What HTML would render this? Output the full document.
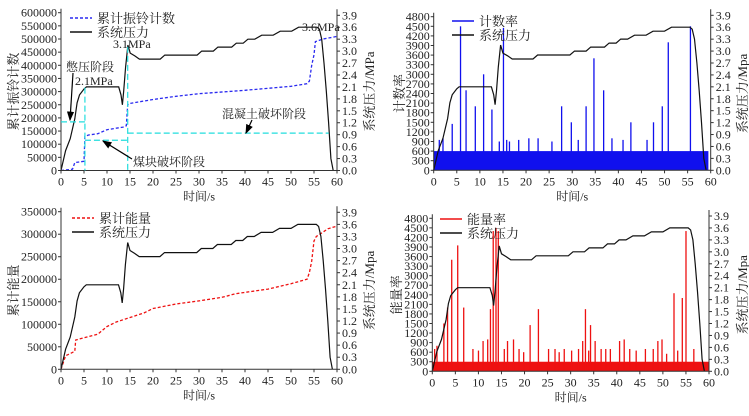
<!DOCTYPE html>
<html><head><meta charset="utf-8"><style>
html,body{margin:0;padding:0;background:#fff;}
svg text{font-family:"Liberation Serif","Noto Serif CJK SC","Noto Sans CJK SC",serif;fill:#222;}
</style></head><body>
<svg id="fig" width="749" height="411" viewBox="0 0 749 411" xmlns="http://www.w3.org/2000/svg"></svg>
<script>
// ---- shared pressure series ----
const pressT = [0,1,2,3,3.5,4,5,5.5,12.5,13,13.3,13.6,14,14.5,15,16,17,21.5,22.5,29.5,30.5,33,34,37,38,39.5,40.5,42,43.5,46,47.5,50,51.5,55.5,56,56.5,57,57.5,58,58.5,59];
const pressV = [0,0.5,0.8,1.3,1.7,1.9,2.05,2.1,2.1,1.9,1.65,2.0,2.6,3.15,2.95,2.88,2.8,2.8,2.9,2.9,3.0,3.0,3.1,3.1,3.2,3.2,3.3,3.3,3.4,3.4,3.5,3.5,3.6,3.6,3.55,3.3,2.7,2.0,1.2,0.3,0];
// ---- panel 1: cumulative ring count ----
const ringT = [0,2.5,3,5,5.2,6,8,10,13.5,14.2,14.5,15,20,25,30,40,50,53.5,54,54.5,55,55.3,57,60];
const ringV = [0,5000,30000,35000,130000,135000,140000,155000,165000,170000,250000,255000,270000,282000,292000,305000,320000,330000,340000,400000,440000,490000,500000,510000];
// ---- panel 2: count rate spikes ----
const countT = [1.2,2,4,5.8,7,9,10.8,12.6,14.2,15.1,15.8,16.4,18.4,20.6,22.6,25.6,27.7,29.8,31.3,33,34.7,36.8,38.6,41,42.7,46.2,47.6,49.5,50.8,55.6];
const countV = [950,1000,1450,4500,2500,2000,3000,1900,900,4450,950,900,950,1000,1000,900,2000,1500,950,2000,3500,2500,1000,950,1500,950,1500,2000,4000,4500];
const countNoise = [600];
// ---- panel 3: cumulative energy ----
const energyT = [0,0.5,1,3,3.2,5,8,10,12,15,18,20,25,30,35,38,45,50,53.5,54,54.5,55,55.5,57,58,60];
const energyV = [0,15000,30000,40000,65000,70000,78000,95000,105000,115000,125000,135000,145000,152000,160000,168000,178000,190000,200000,215000,240000,285000,295000,305000,312000,318000];
// ---- panel 4: energy rate spikes ----
const erateT = [0.5,1,2.5,3.3,4.2,5.5,6.8,8.8,10,11,12,12.6,13.2,13.8,14.3,15.6,16.3,17.6,18.8,19.8,21.2,23,25.2,26.6,27.5,28.6,30.2,31.7,32.6,33.2,33.9,34.3,35.3,36.6,37.6,38.6,40.6,41.6,42.8,44.2,46.2,47.9,48.9,49.8,50.8,52.4,53.2,54.2,55,56.7];
const erateV = [700,800,1500,2000,3500,3950,2000,700,650,950,1000,1950,4400,4500,4400,700,950,1000,700,600,1450,1950,700,700,600,700,650,700,950,1950,650,1450,950,700,700,700,950,1000,700,650,700,700,950,1000,550,2450,650,2300,4400,700];
const erateNoise = [300];

const xTicks = [0,5,10,15,20,25,30,35,40,45,50,55,60];
const rTicks = [0,0.3,0.6,0.9,1.2,1.5,1.8,2.1,2.4,2.7,3.0,3.3,3.6,3.9];

const svg = document.getElementById('fig');
const NS = 'http://www.w3.org/2000/svg';
function mk(tag, attrs, parent){const e=document.createElementNS(NS,tag);for(const k in attrs)e.setAttribute(k,attrs[k]);(parent||svg).appendChild(e);return e;}
function txt(s,x,y,size,anchor,parent){const t=mk('text',{x:x,y:y,'font-size':size,'text-anchor':anchor||'start'},parent);t.textContent=s;return t;}

function panel(p){
  const g = mk('g',{});
  
  
  const sx = t => p.x0 + (t/60)*(p.x1-p.x0);
  const sy = v => p.yb - (v/p.lmax)*(p.yb-p.yt);
  const sr = v => p.yb - (v/3.9)*(p.yb-p.rt);
  if(p.bars){
    const nb = mk('rect',{x:sx(0),y:sy(p.noise[0]),width:sx(p.noiseEnd)-sx(0),height:p.yb-sy(p.noise[0]),fill:p.color},g);
    
    
    for(let i=0;i<p.bt.length;i++){
      const b = mk('rect',{x:sx(p.bt[i])-0.6,y:sy(p.bv[i]),width:1.3,height:p.yb-sy(p.bv[i]),fill:p.color},g);
      
      
    }
  } else {
    let d='';for(let i=0;i<p.lt.length;i++)d+=(i?'L':'M')+sx(p.lt[i]).toFixed(1)+','+sy(p.lv[i]).toFixed(1);
    const l = mk('path',{d:d,fill:'none',stroke:p.color,'stroke-width':1.3,'stroke-dasharray':'3,2'},g);
    
    
  }
  let d='';for(let i=0;i<pressT.length;i++)d+=(i?'L':'M')+sx(pressT[i]*p.pscale).toFixed(1)+','+sr(pressV[i]).toFixed(1);
  const pl = mk('path',{d:d,fill:'none',stroke:'#111','stroke-width':1.2},g);
  
  
  const ax = mk('path',{d:`M${p.x0},${p.yt-4}V${p.yb}H${p.x1}V${p.rt-6}`,fill:'none',stroke:'#333','stroke-width':1},g);
  
  
  for(let v=0;v<=p.lmax+1e-9;v+=p.lstep){
    const y=sy(v);mk('line',{x1:p.x0-3,x2:p.x0,y1:y,y2:y,stroke:'#333'},g);
    const t=txt(String(Math.round(v)),p.x0-4,y+4,12,'end',g);
    
    
  }
  for(const v of rTicks){
    const y=sr(v);mk('line',{x1:p.x1,x2:p.x1+3,y1:y,y2:y,stroke:'#333'},g);
    const t=txt(v.toFixed(1),p.x1+5,y+4,12,'start',g);
    
    
  }
  for(const v of xTicks){
    const x=sx(v);mk('line',{x1:x,x2:x,y1:p.yb,y2:p.yb+3,stroke:'#333'},g);
    const t=txt(String(v),x,p.yb+15,12,'middle',g);
    
    
  }
  const xt=txt('时间/s',(p.x0+p.x1)/2,p.yb+30,12,'middle',g);
  
  
  const lt=txt(p.ylab,0,0,13,'middle',g);
  lt.setAttribute('transform',`translate(${p.lx},${(p.yb+p.yt)/2}) rotate(-90)`);
  
  
  const rt=txt(p.rlab,0,0,13,'middle',g);
  rt.setAttribute('transform',`translate(${p.rx},${(p.yb+p.yt)/2}) rotate(-90)`);
  
  
  const lg = mk('g',{},g);
  
  
  const a = {x1:p.legx,x2:p.legx+22,y1:p.legy,y2:p.legy,stroke:p.color,'stroke-width':1.5};
  if(!p.bars)a['stroke-dasharray']='3,2';
  mk('line',a,lg);
  txt(p.leg,p.legx+27,p.legy+5,13,'start',lg);
  mk('line',{x1:p.legx,x2:p.legx+22,y1:p.legy+14,y2:p.legy+14,stroke:'#111','stroke-width':1.5},lg);
  txt('系统压力',p.legx+27,p.legy+19,13,'start',lg);
  return {g,sx,sy,sr};
}

const p1 = panel({name:'ring-count-panel',x0:61,x1:337,yb:170.5,yt:12.7,rt:15.3,lmax:600000,lstep:50000,lt:ringT,lv:ringV,color:'#2a2af0',pscale:1.003,ylab:'累计振铃计数',rlab:'系统压力/MPa',lx:18,rx:374,leg:'累计振铃计数',legx:70,legy:18});
const p2 = panel({name:'count-rate-panel',x0:433.7,x1:710.7,yb:170.3,yt:16.7,rt:15.3,lmax:4800,lstep:300,bars:true,bt:countT,bv:countV,noise:countNoise,noiseEnd:59.5,color:'#1010ee',pscale:1,ylab:'计数率',rlab:'系统压力/Mpa',lx:404,rx:747,leg:'计数率',legx:452,legy:21});
const p3 = panel({name:'cumulative-energy-panel',x0:61,x1:337,yb:369.3,yt:211.7,rt:212.3,lmax:350000,lstep:50000,lt:energyT,lv:energyV,color:'#ee1111',pscale:1,ylab:'累计能量',rlab:'系统压力/Mpa',lx:18,rx:374,leg:'累计能量',legx:72,legy:218});
const p4 = panel({name:'energy-rate-panel',x0:432.3,x1:709,yb:371.3,yt:218.3,rt:216,lmax:4800,lstep:300,bars:true,bt:erateT,bv:erateV,noise:erateNoise,noiseEnd:60,color:'#ee1111',pscale:1,ylab:'能量率',rlab:'系统压力/Mpa',lx:401,rx:747,leg:'能量率',legx:440,legy:219});

const an = mk('g',{});


const cy = {stroke:'#22dddd','stroke-width':1.2,'stroke-dasharray':'6,3',fill:'none'};
const S=p1.sx, Y=p1.sy;
mk('path',Object.assign({d:`M${S(0)},${Y(185000)}H${S(5.2)}M${S(5.2)},${Y(315000)}V${Y(0)}M${S(5.2)},${Y(115000)}H${S(14.5)}M${S(14.5)},${Y(470000)}V${Y(0)}M${S(14.5)},${Y(142000)}H${S(58.2)}`},cy),an);
mk('defs',{},an).innerHTML='<marker id="ah" markerWidth="8" markerHeight="8" refX="7" refY="4" orient="auto"><path d="M0,1L8,4L0,7z" fill="#000"/></marker>';
mk('line',{x1:73,y1:73,x2:70,y2:120,stroke:'#000','stroke-width':1.2,'marker-end':'url(#ah)'},an);
mk('line',{x1:252,y1:120,x2:246,y2:133,stroke:'#000','stroke-width':1.2,'marker-end':'url(#ah)'},an);
mk('line',{x1:132,y1:159,x2:103,y2:141,stroke:'#000','stroke-width':1.2,'marker-end':'url(#ah)'},an);
txt('憋压阶段',66,71,12,'start',an);
txt('2.1MPa',75,85,12,'start',an);
txt('3.1MPa',113,48,12,'start',an);
txt('3.6MPa',302,31,12,'start',an);
txt('混凝土破坏阶段',222,118,12,'start',an);
txt('煤块破坏阶段',133,166,12,'start',an);
</script>
</body></html>
